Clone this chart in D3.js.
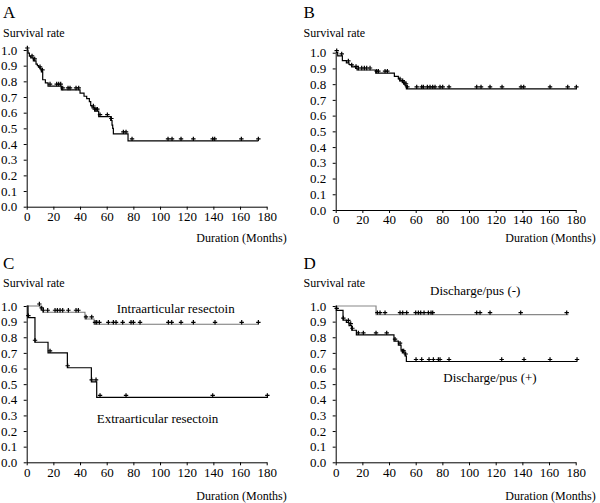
<!DOCTYPE html>
<html><head><meta charset="utf-8">
<script src="https://cdn.jsdelivr.net/npm/d3@7"></script>
<style>
body{margin:0;background:#fff;}
text{font-family:"Liberation Serif","Times New Roman",serif;fill:#000;}
</style></head>
<body><svg id="c" width="600" height="503"></svg>
<script>
// ---- data ----
const xTicks = [0,20,40,60,80,100,120,140,160,180];
const yTicks = [0,0.1,0.2,0.3,0.4,0.5,0.6,0.7,0.8,0.9,1.0];

// Panel A: overall
const aTimes = [0,1,2,3,5,7,8,9,10,11,12,14,16,26,40,43,45,47,48,49,51,54,63,64,64.5,65,76,173.75];
const aSurv  = [1,0.98,0.96,0.95,0.93,0.91,0.90,0.89,0.88,0.86,0.81,0.79,0.77,0.745,0.725,0.705,0.69,0.67,0.645,0.63,0.61,0.575,0.55,0.52,0.50,0.465,0.42,0.42];
const aCensor = [0.5,4,6,10,11.8,17.5,22.5,24,25.5,27,31,32.5,37,39,50,51,52,53,55,60.5,63.5,72.5,74.5,79,106,109,115.75,125,139.5,141,161,173.75];

// Panel B
const bTimes = [0,1.5,5,8,10,12,15,16,30,44,47,48,50,51,52,53,181];
const bSurv  = [1,0.98,0.95,0.935,0.925,0.91,0.90,0.89,0.87,0.85,0.835,0.82,0.81,0.80,0.79,0.77,0.77];
const bCensor = [0.75,4.5,9.5,12,15.25,17,19.5,21.5,23.25,25.75,30.75,32,37,38.75,48.25,50.25,51.25,52.75,53.75,60.75,64.5,65.75,68.75,70.75,72.75,74.5,78.25,80.25,85,105.75,109,115.75,124.75,139,141,160.75,174,180.5];

// Panel C: intraarticular / extraarticular resection
const cInTimes = [0,10.5,12,43.7,50.5,173.75];
const cInSurv  = [1,0.975,0.96,0.917,0.883,0.883];
const cInCensor = [9.5,11.25,12.5,15.75,21.25,23,25,27,31.25,37,38.75,44.5,48.75,51.25,52.5,54.5,61.25,65,67,72,78.25,80,85,106.25,108.75,115.75,125,141.25,161.25,173.75];
const cExTimes = [0,1,6.2,16,30.5,48.5,52.5,181];
const cExSurv  = [1,0.925,0.768,0.70,0.605,0.515,0.415,0.415];
const cExCensor = [1.25,6.25,17.5,30.75,48.75,52,55,74.5,139.5,180.5];

// Panel D: discharge/pus (-) / (+)
const dNegTimes = [0,30.25,174.5];
const dNegSurv  = [1,0.945,0.945];
const dNegCensor = [31.25,33.25,37,48.25,50.25,53.25,60,62,63.75,66.25,69.5,71.5,72.75,105.75,108.25,115.75,138.75,173.25];
const dPosTimes = [0,0.5,5.5,8,10,12,15.5,43.7,47,49,50,52,53,181];
const dPosSurv  = [1,0.972,0.91,0.895,0.875,0.845,0.815,0.775,0.75,0.72,0.70,0.68,0.645,0.645];
const dPosCensor = [0.75,5.75,9.5,11.25,12.5,17,20.75,30.25,38.25,44.5,48.25,50.25,51,52.5,60.25,64.5,70,73.25,77,78.25,85,124.5,141.25,160.75,181];

const svg = d3.select("#c");

function stepVal(times, surv, t){
  let v = surv[0];
  for(let i=0;i<times.length;i++){ if(times[i] <= t) v = surv[i]; }
  return v;
}

function panel(opt){
  const g = svg.append("g");
  const x = d3.scaleLinear().domain([0,180]).range([opt.x0, opt.x1]);
  const y = d3.scaleLinear().domain([0,1]).range([opt.yb, opt.yt]);
  // axes
  const ax = g.append("g").attr("transform",`translate(0,${opt.yb})`)
    .call(d3.axisBottom(x).tickValues(xTicks).tickSize(3).tickSizeOuter(0).tickPadding(2).tickFormat(d3.format("d")));
  const ay = g.append("g").attr("transform",`translate(${opt.x0},0)`)
    .call(d3.axisLeft(y).tickValues(yTicks).tickSize(3).tickSizeOuter(0).tickPadding(6.5).tickFormat(d3.format(".1f")));
  [ax,ay].forEach(a=>{
    a.selectAll("text").attr("font-size",13).attr("font-family",'"Liberation Serif",serif').attr("fill","#000");
    a.selectAll("line,path").attr("stroke","#000").attr("stroke-width",1);
  });
  // curves
  opt.curves.forEach(c=>{
    const pts = c.times.map((t,i)=>[t,c.surv[i]]);
    g.append("path")
      .attr("d", d3.line().x(d=>x(d[0])).y(d=>y(d[1])).curve(d3.curveStepAfter)(pts))
      .attr("fill","none").attr("stroke",c.color).attr("stroke-width",c.width);
    const cg = g.append("g");
    c.censor.forEach(t=>{
      const cx = x(t), cy = y(stepVal(c.times,c.surv,t)) - 2;
      cg.append("path").attr("d",`M${cx-2.2},${cy}H${cx+2.2}M${cx},${cy-2.2}V${cy+2.2}`)
        .attr("stroke","#000").attr("stroke-width",1.2).attr("fill","none");
    });
  });
  // texts
  g.append("text").attr("x",opt.tx).attr("y",opt.ty).attr("font-size",17).text(opt.title);
  g.append("text").attr("x",opt.tx).attr("y",opt.sy).attr("font-size",12).text("Survival rate");
  g.append("text").attr("x",opt.x1+20).attr("y",opt.dy).attr("font-size",12).attr("text-anchor","end").text("Duration (Months)");
  (opt.labels||[]).forEach(l=>{
    g.append("text").attr("x",l.x).attr("y",l.y).attr("font-size",13).text(l.text);
  });
}

panel({title:"A", x0:26.7, x1:266.7, yt:50, yb:206.7, tx:3, ty:17.5, sy:36.5, dy:241.5,
  curves:[{times:aTimes,surv:aSurv,censor:aCensor,color:"#000",width:1.2}]});
panel({title:"B", x0:335.7, x1:575.7, yt:52.7, yb:210, tx:303.5, ty:17.5, sy:36.5, dy:241.5,
  curves:[{times:bTimes,surv:bSurv,censor:bCensor,color:"#000",width:1.2}]});
panel({title:"C", x0:26.7, x1:266.7, yt:306, yb:462.3, tx:3, ty:269, sy:286.5, dy:500,
  curves:[{times:cInTimes,surv:cInSurv,censor:cInCensor,color:"#777",width:1.1},
          {times:cExTimes,surv:cExSurv,censor:cExCensor,color:"#000",width:1.2}],
  labels:[{x:116.7,y:312.7,text:"Intraarticular resectoin"},{x:96.7,y:422.7,text:"Extraarticular resectoin"}]});
panel({title:"D", x0:335.7, x1:575.7, yt:306, yb:462.3, tx:303.5, ty:269, sy:286.5, dy:500,
  curves:[{times:dNegTimes,surv:dNegSurv,censor:dNegCensor,color:"#888",width:1.2},
          {times:dPosTimes,surv:dPosSurv,censor:dPosCensor,color:"#000",width:1.2}],
  labels:[{x:430,y:295,text:"Discharge/pus (-)"},{x:443.3,y:381.7,text:"Discharge/pus (+)"}]});
</script></body></html>
